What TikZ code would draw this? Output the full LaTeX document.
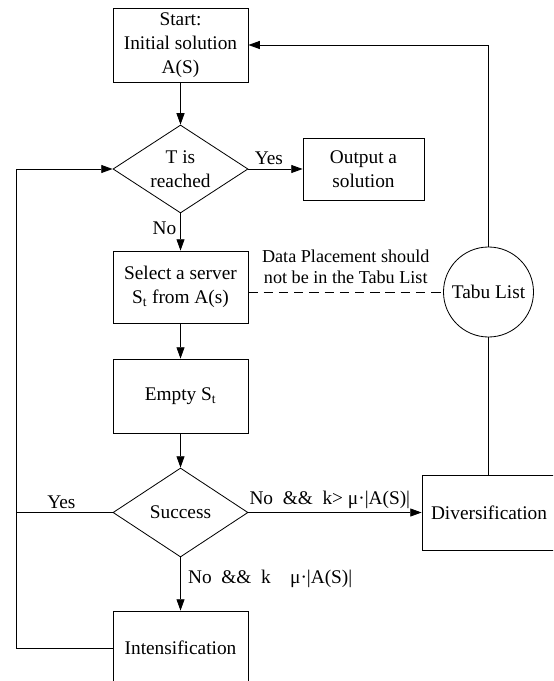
\documentclass[tikz,border=0pt]{standalone}
\usepackage{fontspec}
\setmainfont{Liberation Serif}
\usetikzlibrary{shapes.geometric, arrows.meta}

\begin{document}
\begin{tikzpicture}[x = 0.03cm, y = -0.03cm, line width = 0.7pt,
  font = \fontsize{16.5}{20.5}\selectfont,
  box/.style = {draw, align = center, minimum width = 4.05cm, minimum height = 2.22cm, inner sep = 0pt},
  decision/.style = {draw, diamond, aspect = 1.5, align = center, minimum width = 4.05cm, minimum height = 2.64cm, inner sep = 0pt},
  flow/.style = {-{Triangle[length = 3.4mm, width = 2.4mm]}}]
  \useasboundingbox (0, 0) rectangle (553, 681);
  \clip (0, 0) rectangle (553, 681);
  % main column
  \node[box] (start) at (180.5, 45) {Start:\\Initial solution\\A(S)};
  \node[decision] (reach) at (180.5, 169) {T is\\reached};
  \node[box, minimum width = 3.63cm, minimum height = 1.86cm] (output) at (363.5, 169) {Output a\\solution};
  \node[box, minimum height = 2.16cm] (select) at (180.5, 287) {Select a server\\S\textsubscript{t} from A(s)};
  \node[box] (empty) at (180.5, 396) {Empty S\textsubscript{t}};
  \node[decision, minimum height = 2.67cm] (success) at (180.5, 512.5) {Success};
  \node[box] (intens) at (180.5, 648) {Intensification};
  % right side
  \node[box, minimum width = 4.02cm, minimum height = 2.25cm] (divers) at (489, 512.5) {Diversification};
  \node[draw, circle, minimum size = 2.7cm, inner sep = 0pt] (tabu) at (488.5, 292) {Tabu List};
  \coordinate (loop) at (16, 0);

  \draw[flow] (start) -- (reach);
  \draw[flow] (reach) -- node[above, xshift = -0.2cm] {Yes} (output);
  \draw[flow] (reach) -- node[left, pos = 0.4] {No} (select);
  \draw[flow] (select) -- (empty);
  \draw[flow] (empty) -- (success);
  \draw[flow] (success.east) -- node[above, pos = 0.47] {No\ \ \&\&\ \ k> μ·|A(S)|} (divers.west);
  \draw[flow] (success.south) -- node[right, pos = 0.4, xshift = 0.1cm] {No\ \ \&\&\ \ k\ \ \ \ μ·|A(S)|} (intens.north);
  \draw (success.west) -- node[above, pos = 0.53] {Yes} (success.west -| loop);
  \draw[flow] (intens.west) -- (intens.west -| loop) |- (reach.west);
  \draw (tabu.south) -- (tabu.south |- divers.north);
  \draw[flow] (tabu.north) |- (start.east);
  \draw[dash pattern = on 8pt off 5pt] (tabu.west -| select.east) -- node[above, yshift = 3pt, align = center, font = \fontsize{15.5}{18}\selectfont] {Data Placement should\\not be in the Tabu List} (tabu.west);
\end{tikzpicture}
\end{document}
